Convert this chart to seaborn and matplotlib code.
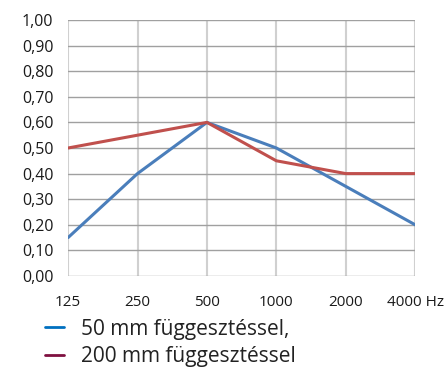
import pandas as pd
import numpy as np
import matplotlib.pyplot as plt
import seaborn as sns
from matplotlib.lines import Line2D

freqs = ["125", "250", "500", "1000", "2000", "4000 Hz"]
s50 = [0.15, 0.40, 0.60, 0.50, 0.35, 0.20]
s200 = [0.50, 0.55, 0.60, 0.45, 0.40, 0.40]
names = ["50 mm függesztéssel,", "200 mm függesztéssel"]

df = pd.DataFrame({
    "pos": list(range(len(freqs))) * 2,
    "alfa": s50 + s200,
    "sorozat": [names[0]] * len(freqs) + [names[1]] * len(freqs),
})

sns.set_style("white")
plt.rcParams['font.family'] = ['Open Sans', 'DejaVu Sans']

fig = plt.figure(figsize=(4.45, 3.67), dpi=100)
ax = fig.add_axes([0.153, 0.248, 0.78, 0.6975])

sns.lineplot(data=df, x="pos", y="alfa", hue="sorozat",
             palette=["#4a7ebb", "#c0504d"], linewidth=2.2, ax=ax, legend=False)

ax.set_xlim(0, len(freqs) - 1)
ax.set_ylim(0, 1.0)
ax.set_xticks(range(len(freqs)))
ax.set_xticklabels(freqs)
yt = np.arange(0, 1.01, 0.1)
ax.set_yticks(yt)
ax.set_yticklabels([f"{v:.2f}".replace(".", ",") for v in yt])
ax.set_xlabel("")
ax.set_ylabel("")

ax.grid(axis="x", color="#d0d0d0", linewidth=1.5)
ax.grid(axis="y", color="#a0a0a0", linewidth=1)
ax.set_axisbelow(True)
for s in ax.spines.values():
    s.set_visible(False)
ax.tick_params(axis="x", length=10, width=1.5, color="#d0d0d0", pad=4, labelsize=11)
ax.tick_params(axis="y", length=4.5, width=1, color="#a0a0a0", pad=6, labelsize=11.5)
for lab in ax.get_xticklabels() + ax.get_yticklabels():
    lab.set_color("#1a1a1a")

handles = [Line2D([], [], color="#0070c0", linewidth=2),
           Line2D([], [], color="#7f1040", linewidth=2)]
fig.legend(handles, names, loc="upper left", bbox_to_anchor=(0.078, 0.16),
           frameon=False, fontsize=15, handlelength=0.9, handletextpad=0.8,
           labelspacing=0.3, borderpad=0, labelcolor="#222222")

fig.savefig("out.png", dpi=100)
